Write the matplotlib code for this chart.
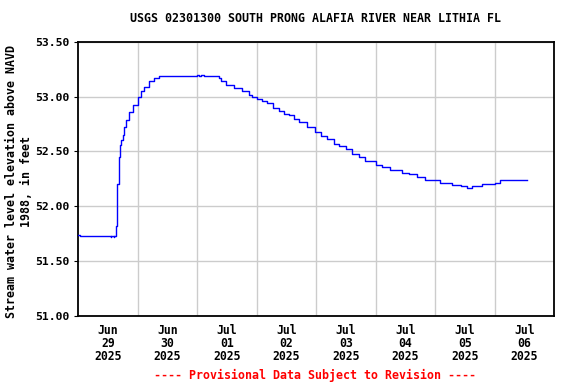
import matplotlib
matplotlib.use("Agg")
import matplotlib.pyplot as plt

# time in days since Jun 29 2025 00:00
times = [-0.51, -0.46, 0.05, 0.06, 0.10, 0.11, 0.143, 0.16, 0.19, 0.198, 0.22, 0.25, 0.277, 0.305,
         0.36, 0.416, 0.50, 0.557, 0.613, 0.697, 0.78, 0.853, 1.50, 1.53, 1.56, 1.61, 1.87,
         1.90, 1.98, 2.12, 2.26, 2.375, 2.43, 2.50, 2.60, 2.68, 2.77, 2.88, 2.96, 3.05,
         3.13, 3.21, 3.35, 3.49, 3.58, 3.69, 3.80, 3.89, 4.00, 4.11, 4.22, 4.33, 4.50,
         4.61, 4.75, 4.95, 5.06, 5.20, 5.34, 5.58, 5.79, 5.93, 6.04, 6.12, 6.29, 6.50,
         6.60, 6.74, 7.04]
values = [51.74, 51.73, 51.72, 51.73, 51.72, 51.73, 51.82, 52.20, 52.45, 52.56, 52.60, 52.65, 52.72, 52.79,
          52.86, 52.92, 53.00, 53.05, 53.09, 53.14, 53.17, 53.19, 53.20, 53.19, 53.20, 53.19, 53.17,
          53.14, 53.11, 53.08, 53.05, 53.02, 53.00, 52.98, 52.96, 52.94, 52.90, 52.87, 52.84, 52.83,
          52.80, 52.77, 52.72, 52.68, 52.64, 52.61, 52.57, 52.55, 52.52, 52.48, 52.45, 52.41, 52.38,
          52.36, 52.33, 52.30, 52.29, 52.27, 52.24, 52.21, 52.19, 52.18, 52.165, 52.18, 52.20, 52.21,
          52.235, 52.235, 52.235]

tick_days = [0, 1, 2, 3, 4, 5, 6, 7]
tick_labels = ["Jun\n29\n2025", "Jun\n30\n2025", "Jul\n01\n2025", "Jul\n02\n2025",
               "Jul\n03\n2025", "Jul\n04\n2025", "Jul\n05\n2025", "Jul\n06\n2025"]
y_ticks = [51.00, 51.50, 52.00, 52.50, 53.00, 53.50]
title = "USGS 02301300 SOUTH PRONG ALAFIA RIVER NEAR LITHIA FL"
ylabel = "Stream water level elevation above NAVD\n1988, in feet"
footer = "---- Provisional Data Subject to Revision ----"

mono = {"family": "DejaVu Sans Mono", "weight": "bold"}

fig = plt.figure(figsize=(5.76, 3.84), dpi=100)
ax = fig.add_axes([78/576, 1-315.5/384, (554-78)/576, (315.5-42)/384])

ax.plot(times, values, color="#0000ff", lw=1.0, drawstyle="steps-post", zorder=3)

ax.set_xlim(-0.5, 7.5)
ax.set_ylim(51.0, 53.5)
ax.set_yticks(y_ticks)
ax.set_yticklabels([f"{v:.2f}" for v in y_ticks], fontsize=8.2, **mono)
ax.set_xticks(tick_days)
ax.set_xticklabels(tick_labels, fontsize=8.3, linespacing=1.02, **mono)
ax.set_xticks([d + 0.5 for d in tick_days[:-1]], minor=True)
ax.tick_params(axis="x", which="both", length=0, pad=6)
ax.tick_params(axis="y", length=3, width=0.8, pad=3)
ax.grid(False)
ax.grid(True, which="minor", axis="x", color="#cccccc", lw=1.0)
ax.grid(True, which="major", axis="y", color="#cccccc", lw=1.0)
for s in ax.spines.values():
    s.set_linewidth(1.3)

fig.text(315/576, 1 - 19/384, title, ha="center", va="center", fontsize=8.4, **mono)
fig.text(19/576, 1 - 181/384, ylabel, ha="center", va="center", rotation=90,
         fontsize=8.4, linespacing=1.1, **mono)
fig.text(315/576, 1 - 375/384, footer, ha="center", va="center", color="#ff0000", fontsize=8.4, **mono)

fig.savefig("out.png", dpi=100)
